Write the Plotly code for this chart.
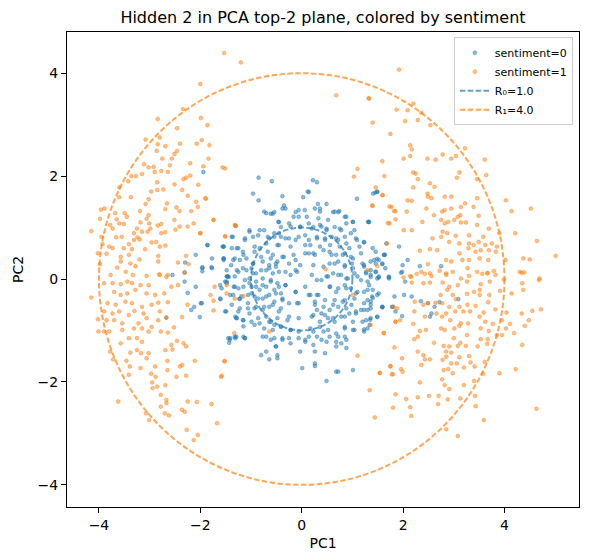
import plotly.graph_objects as go

# ---- data (PC1, PC2) ----
sent0_points = [
    (-1.94, 2.08), (-1.30, 1.03), (-1.86, 0.66), (-1.56, 0.63), (-1.38, 0.82), (-2.09, 0.47),
    (-2.30, 0.32), (-1.78, 0.23), (-1.96, 0.23), (-1.96, 0.15), (-1.54, 0.40), (-1.39, 0.27),
    (-2.55, 0.08), (-2.31, 0.13), (-1.47, 0.05),
    (-2.31, -0.05), (-2.25, -0.27), (-2.09, -0.15), (-2.12, -0.54), (-2.18, -0.60), (-1.97, -0.47),
    (-2.01, -0.74), (-2.67, -0.75), (-1.60, -0.39), (-1.51, -0.05), (-1.44, 0.04), (-1.34, -0.15),
    (-1.23, -0.39), (-1.49, -0.63), (-1.31, -0.73), (-1.15, -0.80), (-1.42, -1.18), (-1.31, -1.15),
    (-1.15, -1.12),
    (1.45, 1.68), (1.49, 1.70), (1.32, 1.11), (1.23, 0.71), (1.67, 0.69), (1.92, 0.63), (1.64, 0.47),
    (1.49, 0.39), (1.46, 0.30), (1.59, 0.29), (1.36, 0.34), (2.09, 0.37), (1.99, 0.27), (2.33, 0.25),
    (2.75, 0.25), (1.23, 0.27), (1.27, 0.14), (1.46, 0.14), (1.98, 0.14), (1.72, 0.04), (1.36, 0.04),
    (1.27, 0.11), (1.46, 0.14), (1.52, 0.03), (1.72, 0.04), (1.96, 0.12), (2.04, -0.05), (1.33, -0.12),
    (1.40, -0.21), (1.49, -0.31), (1.30, -0.41), (1.36, -0.57), (1.23, -0.60), (1.59, -0.55),
    (1.80, -0.54), (1.83, -0.34), (2.02, -0.31), (2.17, -0.34), (2.35, -0.43), (2.49, -0.47),
    (2.72, -0.45), (2.62, -0.54), (2.56, -0.67), (2.53, -0.73), (1.98, -0.72), (1.85, -0.63),
    (1.49, -0.74), (1.36, -0.76), (1.27, -0.80), (1.23, -0.98), (1.30, -0.96), (1.34, -0.89),
    (3.09, -0.39),
    (-0.96, 1.66), (-0.85, 1.53), (-0.38, 1.61), (-0.35, 1.43), (-0.32, 1.37), (-0.61, 1.27),
    (-0.70, 1.28), (-0.54, 1.30), (-0.12, 1.30), (-0.06, 1.21), (0.06, 1.34), (0.14, 1.69),
    (0.03, 1.59), (0.32, 1.46), (0.36, 1.37), (0.49, 1.46), (0.62, 1.30), (0.72, 1.30), (0.85, 1.21),
    (1.09, 1.56), (1.01, 1.11), (1.31, 1.11), (1.41, 1.66), (1.49, 1.69), (-0.46, 1.11), (-0.41, 1.01),
    (-0.25, 1.08), (-0.03, 1.01), (0.14, 1.08), (0.23, 1.01), (0.36, 1.05), (0.49, 0.98), (0.65, 1.01),
    (0.78, 0.95), (0.88, 1.08), (0.97, 0.89), (-1.03, 0.92), (-0.86, 0.85), (-0.67, 0.82), (-0.54, 0.89),
    (-0.41, 0.82), (-0.25, 0.79), (-0.06, 0.82), (0.14, 0.76), (0.30, 0.79), (0.46, 0.76), (0.59, 0.82),
    (0.72, 0.76), (0.88, 0.69), (1.09, 0.76), (-1.36, 0.82), (-1.12, 0.76), (-1.54, 0.63), (-1.28, 0.60),
    (-0.93, 0.63), (-0.70, 0.69), (-0.45, 0.66), (-0.22, 0.63), (0.07, 0.66), (0.23, 0.50), (0.43, 0.56),
    (0.55, 0.53), (0.68, 0.47), (0.85, 0.50), (0.97, 0.43), (1.17, 0.50), (1.46, 0.53), (1.63, 0.47),
    (-1.86, 0.66), (-1.77, 0.40), (-1.54, 0.37), (-1.35, 0.37), (-1.15, 0.47), (-0.96, 0.30),
    (-0.80, 0.43), (-0.61, 0.40), (-0.48, 0.34), (-0.35, 0.43), (-0.12, 0.37), (0.14, 0.50),
    (0.55, 0.30), (0.72, 0.34), (0.85, 0.24), (0.99, 0.30), (1.23, 0.24), (1.52, 0.37), (1.65, 0.21),
    (-1.77, 0.21), (-1.96, 0.21), (-1.48, 0.05), (-1.28, 0.17), (-1.09, 0.17), (-0.96, 0.11),
    (-0.80, 0.17), (-0.64, 0.21), (-0.51, 0.24), (-0.32, 0.14), (-0.12, 0.17), (0.30, -0.02),
    (0.49, 0.05), (0.62, 0.11), (0.78, 0.08), (0.91, 0.01), (1.04, 0.11), (1.17, -0.02), (1.36, 0.08),
    (1.49, 0.01), (1.72, 0.01), (-1.61, -0.12), (-1.48, -0.08), (-1.32, -0.15), (-1.15, -0.15),
    (-1.03, -0.08), (-0.90, -0.15), (-0.77, -0.12), (-0.61, -0.05), (-0.45, -0.15), (-0.32, -0.12),
    (-0.12, -0.25), (0.14, -0.31), (0.30, -0.31), (0.55, -0.15), (0.72, -0.18), (0.85, -0.12),
    (0.97, -0.18), (1.10, -0.25), (1.30, -0.21), (1.39, -0.34), (1.52, -0.28), (-1.61, -0.38),
    (-1.41, -0.31), (-1.19, -0.34), (-0.99, -0.28), (-0.86, -0.38), (-0.70, -0.34), (-0.51, -0.28),
    (-0.38, -0.38), (-0.25, -0.47), (-0.06, -0.47), (0.26, -0.44), (0.46, -0.41), (0.65, -0.41),
    (0.85, -0.41), (1.04, -0.38), (1.23, -0.47), (1.36, -0.44), (1.59, -0.54), (1.78, -0.54),
    (-1.99, -0.47), (-1.38, -0.50), (-1.22, -0.57), (-1.06, -0.47), (-0.93, -0.57), (-0.74, -0.54),
    (-0.57, -0.50), (-0.41, -0.57), (0.30, -0.60), (0.39, -0.67), (0.55, -0.60), (0.72, -0.54),
    (0.88, -0.57), (1.07, -0.67), (1.30, -0.60), (1.49, -0.73), (-1.28, -0.76), (-1.03, -0.67),
    (-0.86, -0.76), (-0.70, -0.73), (-0.61, -0.83), (-0.48, -0.76), (-0.25, -0.73), (-0.06, -0.76),
    (0.20, -0.73), (0.36, -0.83), (0.52, -0.76), (0.65, -0.83), (0.85, -0.73), (1.01, -0.83),
    (1.20, -0.83), (1.35, -0.79), (-1.15, -0.92), (-0.93, -0.89), (-0.74, -0.96), (-0.57, -0.99),
    (-0.41, -0.92), (-0.22, -0.99), (-0.06, -1.15), (0.14, -1.12), (0.23, -1.02), (0.43, -1.02),
    (0.55, -1.12), (0.72, -1.12), (0.85, -0.96), (1.01, -0.99), (-1.45, -1.15), (-1.43, -1.24),
    (-1.32, -1.12), (-1.12, -1.15), (-0.77, -1.12), (-0.61, -1.18), (-0.38, -1.15), (-0.22, -1.25),
    (0.07, -1.22), (0.23, -1.28), (0.39, -1.18), (0.68, -1.31), (0.78, -1.25), (0.85, -1.12),
    (-0.51, -1.31), (-0.80, -1.48), (-0.70, -1.41), (-0.64, -1.56), (-0.48, -1.48), (-0.48, -1.54),
    (-0.03, -1.41), (0.26, -1.41), (0.46, -1.44), (0.88, -1.34), (1.01, -1.77), (0.26, -1.64),
    (0.26, -1.69), (0.01, -1.73), (0.68, -1.80), (0.72, -1.80), (0.49, -1.98),
    (-0.85, 1.97), (-0.59, 1.90), (0.22, 1.92), (0.30, 1.88), (0.12, 1.70),
    (-0.74, 1.31), (-0.57, 1.27), (-0.38, 1.37), (-0.06, 1.34), (-0.16, 1.21), (-0.45, 1.11),
    (-0.22, 1.02), (-0.03, 1.02), (-1.03, 0.95), (-0.83, 0.95), (-0.74, 0.95), (-1.12, 0.79),
    (-0.96, 0.82), (-0.64, 0.79), (-0.54, 0.82), (-0.45, 0.89), (-0.32, 0.79), (-0.12, 0.76),
    (-1.54, 0.63), (-1.38, 0.60), (-1.25, 0.60), (-1.16, 0.53), (-0.93, 0.53), (-0.83, 0.60),
    (-0.67, 0.53), (-0.48, 0.66), (-0.57, 0.47), (-0.38, 0.43), (-0.16, 0.47), (-1.54, 0.40),
    (-1.32, 0.40), (-1.22, 0.37), (-1.09, 0.40), (-0.96, 0.30), (-0.77, 0.34), (-0.64, 0.27),
    (-0.51, 0.30), (-0.25, 0.30), (-0.03, 0.27), (-1.48, 0.17), (-1.25, 0.14), (-1.16, 0.21),
    (-0.99, 0.21), (-0.90, 0.11), (-0.70, 0.17), (-0.57, 0.11), (-0.45, 0.14), (-0.22, 0.08),
    (-0.09, 0.14), (-1.45, 0.05), (-1.48, -0.05), (-1.32, 0.05), (-1.12, -0.02), (-1.03, 0.01),
    (-0.90, -0.05), (-0.77, 0.01), (-0.61, -0.02), (-0.48, -0.08), (-0.32, -0.12), (-1.58, -0.18),
    (-1.25, -0.18), (-0.99, -0.15), (-0.83, -0.21), (-0.70, -0.15), (-0.54, -0.21), (-0.41, -0.28),
    (-0.12, -0.25), (-1.35, -0.31), (-1.22, -0.38), (-1.06, -0.31), (-0.93, -0.34), (-0.77, -0.38),
    (-0.64, -0.31), (-0.54, -0.44), (-0.38, -0.41), (-0.09, -0.47), (-1.51, -0.63), (-1.25, -0.63),
    (-1.06, -0.57), (-0.90, -0.54), (-0.77, -0.60), (-0.64, -0.54), (-0.45, -0.63), (-0.28, -0.80),
    (-1.29, -0.76), (-1.16, -0.80), (-0.99, -0.83), (-0.83, -0.86), (-0.64, -0.83), (-0.54, -0.89),
    (-0.41, -0.93), (-0.22, -0.99), (-0.06, -1.02), (-1.41, -1.15), (-1.29, -1.12), (-1.12, -1.15),
    (-0.70, -1.12), (-0.54, -1.15), (-0.38, -1.18), (-0.25, -1.15), (-0.51, -1.31),
    (0.26, 1.37), (0.36, 1.31), (0.65, 1.31), (0.74, 1.32), (0.10, 1.21), (0.33, 1.18), (0.52, 1.15),
    (0.88, 1.21), (1.01, 1.11), (1.33, 1.11), (0.20, 0.98), (0.39, 1.02), (0.49, 0.95), (0.75, 0.98),
    (1.04, 0.95), (0.07, 0.85), (0.30, 0.82), (0.46, 0.79), (0.68, 0.79), (0.85, 0.82), (1.07, 0.79),
    (1.23, 0.72), (0.17, 0.66), (0.36, 0.63), (0.56, 0.66), (0.75, 0.63), (0.94, 0.60), (1.14, 0.63),
    (1.40, 0.60), (1.62, 0.47), (0.07, 0.50), (0.26, 0.47), (0.59, 0.47), (0.81, 0.47), (1.01, 0.40),
    (1.20, 0.30), (1.43, 0.37), (1.59, 0.30), (0.23, 0.27), (0.43, 0.24), (0.65, 0.30), (0.85, 0.27),
    (1.01, 0.21), (1.36, 0.17), (0.20, 0.08), (0.39, -0.02), (0.52, 0.05), (0.72, 0.08), (0.88, 0.01),
    (1.10, 0.05), (1.30, -0.05), (1.52, 0.05), (0.07, -0.15), (0.17, -0.31), (0.33, -0.31),
    (0.56, -0.15), (0.68, -0.25), (0.88, -0.18), (1.07, -0.28), (1.23, -0.25), (1.40, -0.37),
    (1.59, -0.54), (0.26, -0.50), (0.43, -0.54), (0.62, -0.50), (0.81, -0.44), (0.98, -0.50),
    (1.17, -0.60), (1.36, -0.50), (0.23, -0.70), (0.46, -0.70), (0.62, -0.76), (0.78, -0.73),
    (0.94, -0.67), (1.07, -0.63), (0.17, -0.96), (0.36, -0.93), (0.52, -0.99), (0.68, -1.06),
    (0.85, -0.93), (1.04, -0.99), (1.23, -1.02), (0.07, -1.18), (0.30, -1.12), (0.49, -1.22),
    (0.68, -1.22), (0.88, -1.18),
]

sent1_points = [
    (-2.84, 3.11), (-1.99, 3.13), (-1.86, 2.99), (-2.46, 2.93), (-2.80, 2.75), (-3.08, 2.71),
    (-1.97, 2.70), (-2.07, 2.63), (-2.84, 2.62), (-2.69, 2.58), (-2.40, 2.63), (-1.82, 2.60),
    (-2.46, 2.49), (-2.86, 2.49), (-2.51, 2.43), (-2.56, 2.34), (-2.75, 2.34), (-1.84, 2.34),
    (-2.20, 2.25), (-1.94, 2.19), (-2.60, 2.21), (-3.11, 2.23), (-3.02, 2.17), (-2.92, 2.18),
    (-1.56, 2.17), (-1.51, 2.15), (-2.77, 2.10), (-2.90, 2.08), (-2.64, 2.08), (-3.15, 2.04),
    (-3.36, 2.00), (-3.27, 2.00), (-2.20, 2.01), (-2.28, 1.97), (-2.33, 1.94), (-3.42, 1.90),
    (-2.85, 1.88), (-2.51, 1.84), (-2.04, 1.83), (-3.60, 1.78), (-2.85, 1.73), (-2.73, 1.74),
    (-2.97, 1.70), (-2.36, 1.73), (-2.25, 1.62), (-1.89, 1.56), (-3.60, 1.59), (-3.37, 1.59),
    (-3.02, 1.55), (-2.08, 1.50), (-2.66, 1.47), (-3.08, 1.46), (-2.47, 1.39), (-3.96, 1.35),
    (-3.89, 1.37), (-3.19, 1.32), (-2.69, 1.36), (-2.05, 1.40), (-2.18, 1.32), (-2.41, 1.32),
    (-3.68, 1.28), (-3.49, 1.28), (-3.45, 1.21), (-3.02, 1.24), (-3.06, 1.17), (-3.98, 1.17),
    (-3.65, 1.16), (-2.51, 1.15), (-1.74, 1.15), (-3.60, 1.08), (-3.51, 1.07), (-3.18, 1.10),
    (-3.01, 1.08), (-2.84, 1.04), (-2.77, 1.07), (-2.13, 1.08), (-2.25, 1.02), (-2.41, 1.02),
    (-3.78, 1.05), (-3.73, 0.98), (-4.15, 0.93), (-3.25, 0.98), (-2.99, 0.98), (-2.49, 0.96),
    (-1.31, 1.04), (-3.15, 0.92), (-3.04, 0.92), (-2.77, 0.89), (-2.69, 0.91), (-3.31, 0.89),
    (-2.00, 0.89), (-3.95, 0.82), (-3.66, 0.81), (-3.55, 0.82), (-3.24, 0.81), (-3.31, 0.76),
    (-3.20, 0.77), (-1.51, 0.83), (-2.96, 0.71), (-2.87, 0.72), (-3.93, 0.68), (-3.41, 0.68),
    (-2.80, 0.63), (-2.69, 0.65), (-3.80, 0.63), (-3.73, 0.60), (-3.51, 0.60), (-3.35, 0.58),
    (-3.09, 0.58), (-4.02, 0.50), (-3.85, 0.49), (-3.57, 0.43), (-3.41, 0.47), (-3.20, 0.38),
    (-2.83, 0.45), (-2.28, 0.45), (-2.83, 0.34), (-2.44, 0.32), (-3.98, 0.29), (-3.57, 0.34),
    (-3.38, 0.30), (-3.28, 0.25), (-2.23, 0.29), (-3.64, 0.22), (-3.47, 0.14), (-3.33, 0.08),
    (-3.77, 0.08), (-2.81, 0.09), (-2.64, 0.08), (-3.06, 0.06),
    (-4.15, -0.36), (-4.02, -0.78), (-4.01, -1.02), (-3.90, -1.02), (-3.80, -1.02), (-3.90, -0.08),
    (-3.73, -0.08), (-3.57, -0.10), (-3.44, -0.05), (-3.35, -0.08), (-3.18, -0.12), (-3.02, -0.12),
    (-2.80, 0.08), (-2.67, 0.04), (-2.44, -0.12), (-2.31, 0.12), (-3.70, -0.25), (-3.57, -0.31),
    (-3.44, -0.28), (-3.28, -0.21), (-3.06, -0.28), (-2.89, -0.31), (-2.71, -0.28), (-2.57, -0.15),
    (-2.25, -0.50), (-2.64, -0.45), (-2.83, -0.46), (-3.83, -0.47), (-3.67, -0.50), (-3.48, -0.44),
    (-3.35, -0.47), (-3.15, -0.54), (-2.96, -0.50), (-3.90, -0.63), (-3.73, -0.67), (-3.60, -0.63),
    (-3.30, -0.62), (-3.41, -0.70), (-3.12, -0.67), (-2.80, -0.63), (-2.83, -0.80), (-2.67, -0.75),
    (-2.36, -0.74), (-3.85, -0.80), (-3.70, -0.80), (-3.54, -0.86), (-3.22, -0.86), (-3.06, -0.76),
    (-2.96, -0.93), (-3.31, -0.96), (-3.15, -0.96), (-3.02, -1.02), (-3.54, -0.99), (-2.78, -1.02),
    (-2.64, -1.04), (-2.52, -0.94), (-3.41, -1.15), (-3.25, -1.15), (-3.15, -1.22), (-3.57, -1.25),
    (-2.46, -1.20), (-2.33, -1.25), (-2.57, -1.28), (-2.69, -1.38), (-2.55, -1.37), (-2.28, -1.31),
    (-3.78, -1.41), (-3.38, -1.43), (-3.17, -1.44), (-3.02, -1.44), (-3.25, -1.38), (-3.72, -1.56),
    (-3.46, -1.59), (-3.06, -1.54), (-2.65, -1.59), (-2.11, -1.59), (-1.52, -1.59), (-2.36, -1.67),
    (-3.39, -1.70), (-3.18, -1.73), (-2.89, -1.70), (-2.65, -1.77), (-2.40, -1.70), (-3.41, -1.86),
    (-2.97, -1.84), (-2.88, -1.90), (-2.47, -1.90), (-2.28, -1.88), (-1.59, -1.90), (-2.95, -2.01),
    (-2.69, -2.06), (-2.85, -2.09), (-2.94, -2.12), (-2.78, -2.25), (-2.67, -2.35), (-2.25, -2.38),
    (-2.07, -2.39), (-3.62, -2.38), (-2.78, -2.48), (-2.67, -2.41), (-1.78, -2.43), (-2.70, -2.61),
    (-2.62, -2.65), (-3.07, -2.61), (-3.01, -2.74), (-2.36, -2.54), (-2.31, -2.58), (-1.67, -2.80),
    (-2.27, -2.93), (-2.05, -3.03), (-2.13, -3.13),
    (1.92, 4.07), (1.33, 3.51), (1.87, 3.29), (2.09, 3.28), (2.20, 3.41), (2.36, 3.23), (2.29, 3.09),
    (2.04, 3.07), (3.31, 3.28), (1.40, 3.04), (2.54, 2.99), (1.75, 2.82), (2.14, 2.60), (2.17, 2.52),
    (2.01, 2.34), (2.14, 2.39), (2.48, 2.34), (2.64, 2.32), (2.78, 2.42), (2.95, 2.34), (3.04, 2.39),
    (3.22, 2.54), (3.61, 2.32), (1.59, 2.29), (2.20, 2.07), (2.25, 2.05), (2.29, 1.94), (1.63, 2.00),
    (3.11, 2.07), (3.06, 1.97), (3.64, 2.02), (2.53, 1.86), (2.62, 1.79), (2.20, 1.78), (1.46, 1.78),
    (3.46, 1.94), (2.48, 1.66), (2.49, 1.60), (2.56, 1.57), (2.82, 1.60), (2.95, 1.60), (1.60, 1.63),
    (2.09, 1.53), (2.17, 1.52), (3.46, 1.57), (1.77, 1.40), (1.40, 1.42), (3.14, 1.40), (3.22, 1.47),
    (3.39, 1.40), (4.03, 1.53), (4.52, 1.37), (1.85, 1.32), (2.07, 1.31), (2.46, 1.37), (2.77, 1.31),
    (2.82, 1.34), (2.95, 1.37), (3.13, 1.24), (2.61, 1.24), (3.08, 1.21), (3.49, 1.23), (4.14, 1.32),
    (1.85, 1.16), (1.73, 1.08), (2.38, 1.11), (2.75, 1.15), (2.82, 1.08), (2.89, 1.11), (3.01, 1.15),
    (3.14, 1.10), (3.24, 1.10), (3.46, 1.05), (3.69, 0.98), (2.01, 0.95), (2.17, 0.95), (2.78, 0.92),
    (2.87, 0.89), (3.04, 0.84), (3.30, 0.85), (3.58, 0.82), (3.90, 0.89), (4.21, 0.89), (2.58, 0.79),
    (2.75, 0.82), (2.91, 0.72), (3.11, 0.69), (3.30, 0.69), (3.39, 0.66), (3.49, 0.72), (3.62, 0.66),
    (3.75, 0.69), (3.85, 0.63), (4.64, 0.74), (2.33, 0.55), (2.53, 0.58), (2.67, 0.56), (3.29, 0.60),
    (3.43, 0.53), (3.53, 0.56), (3.69, 0.56), (3.83, 0.53), (3.11, 0.50), (5.01, 0.45), (2.85, 0.37),
    (2.95, 0.34), (3.17, 0.37), (3.30, 0.37), (3.51, 0.40), (3.68, 0.37), (4.02, 0.37), (4.37, 0.40),
    (4.50, 0.38), (2.49, 0.29), (2.36, 0.14), (2.53, 0.11), (2.85, 0.11), (2.98, 0.14), (3.27, 0.21),
    (3.46, 0.14), (3.66, 0.11), (3.79, 0.16), (4.30, 0.14), (4.39, 0.13), (2.16, 0.04), (4.69, 0.01),
    (3.14, 0.01),
    (2.14, 0.06), (2.27, 0.10), (2.43, 0.10), (2.56, 0.06), (2.72, 0.16), (2.85, 0.08), (3.30, 0.06),
    (3.56, 0.10), (3.67, 0.12), (3.82, 0.08), (4.34, 0.12), (2.17, -0.07), (2.40, -0.08), (2.53, -0.07),
    (2.78, -0.07), (2.91, -0.15), (3.08, -0.12), (3.26, -0.05), (3.53, -0.10), (3.71, -0.05),
    (3.99, -0.01), (4.35, -0.08), (4.68, -0.02), (2.01, 0.03), (2.87, -0.21), (2.98, -0.31),
    (3.04, -0.39), (3.26, -0.29), (3.40, -0.25), (3.51, -0.21), (3.51, -0.31), (2.74, -0.31),
    (2.64, -0.46), (3.91, -0.23), (4.14, -0.28), (4.37, -0.21), (3.70, -0.31), (2.23, -0.44),
    (2.40, -0.50), (2.49, -0.47), (2.77, -0.47), (2.91, -0.54), (3.11, -0.54), (3.27, -0.50),
    (3.43, -0.52), (3.68, -0.45), (1.88, -0.57), (2.22, -0.63), (2.66, -0.67), (2.85, -0.67),
    (3.03, -0.63), (3.19, -0.63), (3.32, -0.63), (3.59, -0.65), (3.82, -0.59), (4.04, -0.65),
    (4.34, -0.67), (4.55, -0.62), (4.72, -0.59), (1.85, -0.83), (1.94, -0.80), (2.20, -0.87),
    (2.43, -0.73), (2.77, -0.73), (2.93, -0.80), (3.14, -0.86), (3.28, -0.86), (3.51, -0.73),
    (3.62, -0.83), (3.77, -0.87), (3.95, -0.80), (4.11, -0.87), (4.48, -0.80), (1.62, -1.05),
    (2.33, -1.01), (2.45, -0.99), (2.75, -0.96), (2.82, -0.99), (3.01, -0.96), (3.11, -0.91),
    (3.26, -1.09), (3.53, -0.96), (3.69, -1.01), (3.85, -1.09), (4.03, -0.96), (4.19, -1.05),
    (4.40, -0.91), (2.22, -1.17), (2.29, -1.12), (2.61, -1.24), (3.00, -1.15), (3.13, -1.24),
    (3.53, -1.17), (3.67, -1.17), (3.95, -1.09), (1.83, -1.33), (2.80, -1.30), (2.91, -1.31),
    (3.08, -1.30), (3.24, -1.30), (3.47, -1.31), (3.66, -1.26), (4.35, -1.28), (2.29, -1.41),
    (2.85, -1.41), (2.95, -1.43), (2.40, -1.48), (2.85, -1.51), (3.11, -1.52), (3.30, -1.50),
    (1.98, -1.54), (2.43, -1.56), (2.53, -1.56), (2.78, -1.57), (2.95, -1.64), (3.06, -1.64),
    (3.33, -1.62), (3.61, -1.61), (1.75, -1.70), (2.36, -1.67), (3.20, -1.72), (3.41, -1.70),
    (1.96, -1.75), (1.99, -1.80), (2.80, -1.77), (2.89, -1.75), (1.80, -1.85), (2.98, -1.83),
    (3.58, -1.84), (3.90, -1.83), (4.22, -1.75), (1.54, -1.83), (2.77, -1.95), (3.40, -1.98),
    (2.33, -2.01), (2.82, -2.06), (2.91, -2.14), (3.20, -2.06), (1.34, -2.16), (1.85, -2.24),
    (2.06, -2.33), (2.29, -2.30), (2.51, -2.27), (2.70, -2.27), (2.88, -2.34), (3.13, -2.32),
    (3.42, -2.27), (1.80, -2.50), (2.14, -2.49), (2.69, -2.43), (3.43, -2.47), (4.63, -2.52),
    (1.44, -2.69), (2.16, -2.66), (3.59, -2.74), (2.85, -2.92), (3.08, -3.05),
    (-1.90, 1.57), (-1.74, 1.15), (-1.32, 1.05), (-1.51, 0.83), (-2.00, 0.89), (0.47, 0.19),
    (-1.48, -0.12), (-1.72, -0.15), (-1.80, -0.31), (-1.74, -0.42), (-1.74, -0.61), (-1.48, -0.28),
    (-1.32, -0.38), (-1.15, -0.33), (-0.64, -1.02), (-1.33, -1.05), (-1.52, -1.60), (-1.58, -1.88),
    (1.01, -0.31), (1.30, 0.17), (1.49, 0.25), (1.36, -0.89), (1.62, -1.05), (1.85, -0.83),
    (1.81, -0.54), (1.10, -1.49), (1.54, -1.82), (1.75, -1.69), (1.78, -1.85), (1.68, 0.69),
    (1.70, 1.09), (1.82, 1.32), (1.73, 1.41), (1.39, 1.43), (1.59, 1.63),
    (-1.53, 4.39), (-1.20, 4.21), (-2.00, 3.79), (0.68, 3.57), (1.32, 3.51), (1.10, 2.14),
    (1.03, 1.99), (-2.34, 3.30),
]

radii = [1.0, 4.0]
radius_labels = ["R\u2080=1.0", "R\u2081=4.0"]
class_labels = ["sentiment=0", "sentiment=1"]
x_ticks = [-4, -2, 0, 2, 4]
y_ticks = [-4, -2, 0, 2, 4]

BLUE = "31,119,180"
ORANGE = "255,127,14"
colors = [BLUE, ORANGE]

fig = go.Figure()

for pts, label, c in zip([sent0_points, sent1_points], class_labels, colors):
    fig.add_trace(go.Scatter(
        x=[p[0] for p in pts], y=[p[1] for p in pts],
        mode="markers", name=label,
        marker=dict(size=3.8, color=f"rgba({c},0.5)",
                    line=dict(width=0.8, color=f"rgba({c},0.5)")),
    ))

for r, label, c in zip(radii, radius_labels, colors):
    fig.add_shape(type="circle", xref="x", yref="y", x0=-r, y0=-r, x1=r, y1=r,
                  line=dict(color=f"rgba({c},0.7)", width=2, dash="5.5px,2.4px"),
                  layer="above")
    fig.add_trace(go.Scatter(
        x=[None], y=[None], mode="lines", name=label,
        line=dict(color=f"rgba({c},0.7)", width=2, dash="5.5px,2.4px"),
    ))

axis_common = dict(
    showline=True, mirror=True, linecolor="black", linewidth=1,
    ticks="outside", ticklen=5, tickwidth=1, tickcolor="black",
    showgrid=False, zeroline=False,
    tickfont=dict(size=14, color="black"),
)

# The page body adds an 8px offset, so the figure is 8px smaller and margins compensate
W, H = 582, 552
fig.update_layout(
    width=W, height=H,
    margin=dict(l=52, r=10, t=24, b=53),
    paper_bgcolor="white", plot_bgcolor="white",
    font=dict(family="DejaVu Sans", color="black"),
    title=dict(text="Hidden 2 in PCA top-2 plane, colored by sentiment",
               x=0.5, xref="paper", y=1 - 9 / H, yref="container",
               xanchor="center", yanchor="middle", font=dict(size=16)),
    xaxis=dict(range=[-4.63, 5.47], tickvals=x_ticks,
               title=dict(text="PC1", font=dict(size=14), standoff=6), **axis_common),
    yaxis=dict(range=[-4.43, 4.80], tickvals=y_ticks,
               title=dict(text="PC2", font=dict(size=14), standoff=10), **axis_common),
    legend=dict(x=0.988, y=0.989, xanchor="right", yanchor="top",
                bgcolor="rgba(255,255,255,0.8)", bordercolor="#cccccc", borderwidth=1,
                font=dict(size=11), itemwidth=30, tracegroupgap=0),
    showlegend=True,
)

fig.write_html("out.html")
